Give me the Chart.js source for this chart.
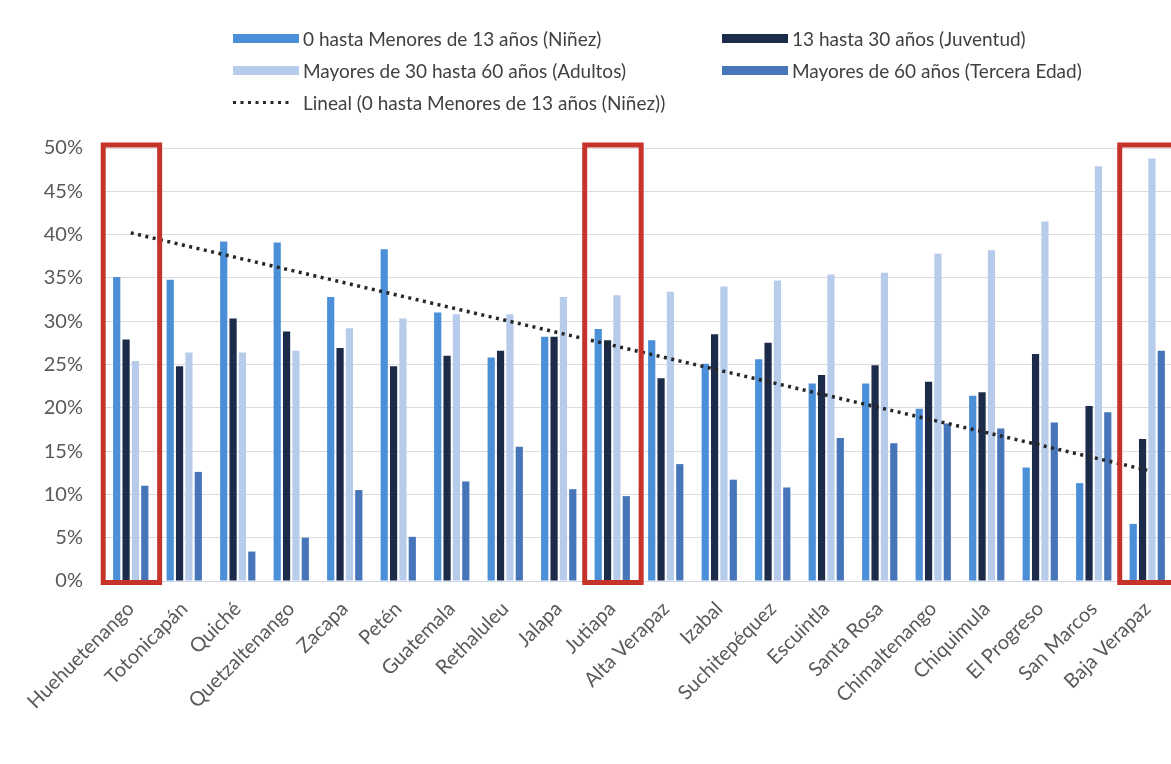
<!DOCTYPE html>
<html>
<head>
<meta charset="utf-8">
<script src="https://cdn.jsdelivr.net/npm/chart.js@4.4.0/dist/chart.umd.min.js"></script>
<style>
html, body { margin: 0; padding: 0; background: #fff; width: 1171px; height: 764px; overflow: hidden; }
#wrap { position: absolute; left: 0; top: 0; width: 1200px; height: 764px; }
#legend { position: absolute; left: 233px; top: 22px; display: grid; grid-template-columns: 489px 420px;
  font-family: Lato, sans-serif; font-size: 19px; color: #404040; }
.item { display: flex; align-items: center; height: 32px; white-space: nowrap; }
.sw { width: 66px; height: 9px; margin-right: 4px; flex: none; }
</style>
</head>
<body>
<div id="wrap"><canvas id="chart"></canvas></div>
<div id="legend"></div>
<script>
const departamentos = ['Huehuetenango', 'Totonicapán', 'Quiché', 'Quetzaltenango', 'Zacapa', 'Petén', 'Guatemala',
  'Rethaluleu', 'Jalapa', 'Jutiapa', 'Alta Verapaz', 'Izabal', 'Suchitepéquez', 'Escuintla', 'Santa Rosa',
  'Chimaltenango', 'Chiquimula', 'El Progreso', 'San Marcos', 'Baja Verapaz'];
const ninez       = [35.1, 34.8, 39.2, 39.1, 32.8, 38.3, 31.0, 25.8, 28.2, 29.1, 27.8, 25.1, 25.6, 22.8, 22.8, 19.9, 21.4, 13.1, 11.3, 6.6];
const juventud    = [27.9, 24.8, 30.3, 28.8, 26.9, 24.8, 26.0, 26.6, 28.2, 27.8, 23.4, 28.5, 27.5, 23.8, 24.9, 23.0, 21.8, 26.2, 20.2, 16.4];
const adultos     = [25.4, 26.4, 26.4, 26.6, 29.2, 30.3, 30.8, 30.8, 32.8, 33.0, 33.4, 34.0, 34.7, 35.4, 35.6, 37.8, 38.2, 41.5, 47.9, 48.8];
const terceraEdad = [11.0, 12.6, 3.4, 5.0, 10.5, 5.1, 11.5, 15.5, 10.6, 9.8, 13.5, 11.7, 10.8, 16.5, 15.9, 18.2, 17.6, 18.3, 19.5, 26.6];
// extremos de la línea de tendencia (primer y último departamento)
const tendencia = [40.2, 12.8];
const resaltados = ['Huehuetenango', 'Jutiapa', 'Baja Verapaz'];
const yMax = 50, yPaso = 5;

const ultimo = departamentos.length - 1;
const lineaTendencia = departamentos.map((_, i) => i === 0 ? tendencia[0] : i === ultimo ? tendencia[1] : null);

Chart.defaults.font.family = 'Lato, sans-serif';
Chart.defaults.color = '#595959';

function barra(label, data, color) {
  return { type: 'bar', label, data, backgroundColor: color, borderWidth: 0,
    categoryPercentage: 0.70, barPercentage: 0.77, order: 2 };
}

const cajas = {
  id: 'cajas',
  afterDatasetsDraw(chart) {
    const { ctx, scales: { x, y } } = chart;
    const paso = x.getPixelForValue(1) - x.getPixelForValue(0);
    const arriba = y.getPixelForValue(yMax) - 3;
    const abajo = y.getPixelForValue(0) + 1.5;
    ctx.save();
    ctx.strokeStyle = '#c5332b';
    ctx.lineWidth = 5;
    for (const nombre of resaltados) {
      const cx = x.getPixelForValue(departamentos.indexOf(nombre));
      ctx.strokeRect(cx - paso * 0.515, arriba, paso * 1.055, abajo - arriba);
    }
    ctx.restore();
  }
};

const chart = new Chart(document.getElementById('chart'), {
  data: {
    labels: departamentos,
    datasets: [
      barra('0 hasta Menores de 13 años (Niñez)', ninez, '#4a8fd8'),
      barra('13 hasta 30 años (Juventud)', juventud, '#1c2b4a'),
      barra('Mayores de 30 hasta 60 años (Adultos)', adultos, '#b7cbeb'),
      barra('Mayores de 60 años (Tercera Edad)', terceraEdad, '#4775b9'),
      { type: 'line', label: 'Lineal (0 hasta Menores de 13 años (Niñez))', data: lineaTendencia,
        spanGaps: true, borderColor: '#262626', borderWidth: 3.5, borderDash: [3, 4.5],
        pointRadius: 0, fill: false, order: 0 }
    ]
  },
  options: {
    responsive: true, maintainAspectRatio: false, animation: false,
    layout: { padding: { top: 148, right: 26, left: 0, bottom: 0 } },
    plugins: { legend: { display: false }, tooltip: { enabled: false } },
    scales: {
      x: {
        grid: { display: false },
        border: { color: '#d0d7e5' },
        ticks: { autoSkip: false, maxRotation: 45, minRotation: 45, padding: 8, font: { size: 20 }, color: '#595959' },
        afterFit: s => { s.height = 183; }
      },
      y: {
        min: 0, max: yMax,
        grid: { color: '#dcdcdc', drawTicks: false },
        border: { display: false },
        ticks: { stepSize: yPaso, padding: 21, font: { size: 20 }, color: '#595959', callback: v => v + '%' },
        afterFit: s => { s.width = 104; }
      }
    }
  },
  plugins: [cajas]
});

// leyenda en dos columnas, como la original
const legendEl = document.getElementById('legend');
chart.data.datasets.forEach(ds => {
  const item = document.createElement('div');
  item.className = 'item';
  if (ds.type === 'line') {
    item.innerHTML = '<svg class="sw" width="66" height="9" style="height:9px;width:66px" viewBox="0 0 66 9">'
      + '<line x1="0" y1="4.5" x2="60" y2="4.5" stroke="#262626" stroke-width="3.2" stroke-dasharray="3 4.5"/></svg>';
  } else {
    item.innerHTML = '<span class="sw" style="background:' + ds.backgroundColor + '"></span>';
  }
  item.appendChild(document.createTextNode(ds.label));
  legendEl.appendChild(item);
});
</script>
</body>
</html>
